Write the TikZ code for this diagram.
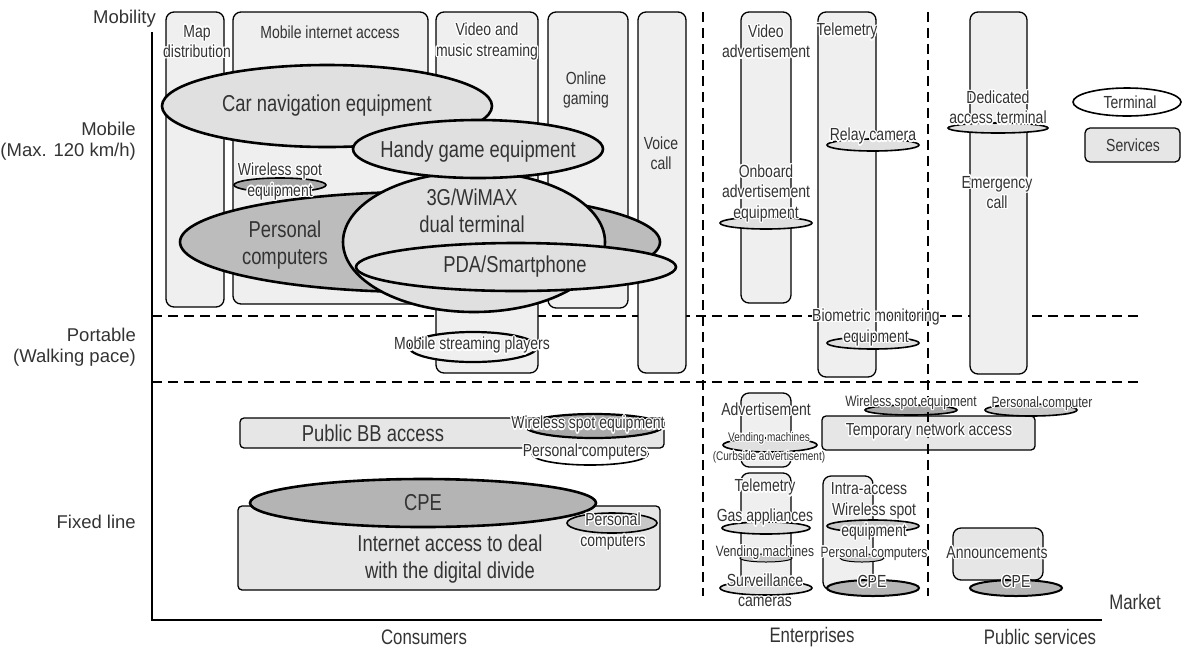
\documentclass[tikz,border=0pt]{standalone}
\usepackage{fontspec}
\setmainfont{Liberation Sans}
\newfontfamily\condfont{Liberation Sans}[FakeStretch=0.8]
\usepackage[copies]{contour}
\contourlength{1.2pt}
\contournumber{16}
\newcommand{\halo}[1]{\contour{white}{#1}}
\definecolor{ink}{HTML}{333333}
\definecolor{boxlight}{HTML}{EFEFEF}
\definecolor{boxfix}{HTML}{E6E6E6}
\definecolor{termlight}{HTML}{E0E0E0}
\definecolor{termdark}{HTML}{BCBCBC}
\definecolor{cpedark}{HTML}{B4B4B4}
\definecolor{spotdark}{HTML}{A9A9A9}
\definecolor{pcgray}{HTML}{C8C8C8}

\begin{document}
\begin{tikzpicture}[x=1pt, y=-1pt,
    every node/.style={inner sep=0pt, align=center, text=ink},
    axislbl/.style={font=\fontsize{18.5}{21}\selectfont},
    marketlbl/.style={font=\condfont\fontsize{21}{24}\selectfont},
    biglbl/.style={font=\condfont\fontsize{23}{27}\selectfont},
    midlbl/.style={font=\condfont\fontsize{17.5}{20.5}\selectfont},
    smllbl/.style={font=\condfont\fontsize{15}{17}\selectfont},
    tinylbl/.style={font=\condfont\fontsize{12.5}{19}\selectfont},
    svcbox/.style={draw, line width=1.3pt, rounded corners=8pt, fill=boxlight},
    fixbox/.style={draw, line width=1.3pt, rounded corners=4pt, fill=boxfix},
    termbig/.style={draw, line width=2.6pt, fill=termlight},
    termsml/.style={draw, line width=1.6pt, fill=termlight},
    zone/.style={line width=1.4pt, dash pattern=on 10pt off 6pt}]

\useasboundingbox (0,0) rectangle (1182,649);

\coordinate (top) at (152,32);
\coordinate (origin) at (152,620);
\coordinate (right) at (1102,620);

\draw[zone] (152,316) -- (1142,316);
\draw[zone] (152,382) -- (1142,382);

% mobile services
\draw[svcbox] (166,12) rectangle (224,307);
\draw[svcbox] (233,12) rectangle (428,304);
\draw[svcbox] (436,12) rectangle (538,373);
\draw[svcbox] (548,12) rectangle (628,308);
\draw[svcbox] (638,12) rectangle (686,373);
\draw[svcbox] (741,12) rectangle (791,303);
\draw[svcbox] (818,12) rectangle (876,377);
\draw[svcbox] (970,12) rectangle (1027,374);

% mobile terminals
\draw[termbig] (327,106) ellipse [x radius=165, y radius=41];
\draw[termbig, fill=termdark] (420,242) ellipse [x radius=240, y radius=50];
\draw[termbig] (474,242) ellipse [x radius=131, y radius=70];
\draw[termbig] (478,149) ellipse [x radius=125, y radius=29];
\draw[termbig] (516,267) ellipse [x radius=160, y radius=24];
\draw[termsml, fill=spotdark] (280,185) ellipse [x radius=46, y radius=7];
\draw[termbig, line width=2.2pt, fill=boxlight] (473,347) ellipse [x radius=64, y radius=15];
\draw[termsml] (766,223) ellipse [x radius=46, y radius=6];
\draw[termsml] (873,145) ellipse [x radius=46, y radius=6];
\draw[termsml] (873,343) ellipse [x radius=46, y radius=6];
\draw[termsml] (998,128) ellipse [x radius=50, y radius=5];

% fixed line
\draw[termsml, fill=white] (590,454) ellipse [x radius=58, y radius=11];
\draw[fixbox] (240,418) rectangle (664,448);
\draw[termbig, line width=2.2pt, fill=spotdark] (594,426) ellipse [x radius=69, y radius=12];
\draw[fixbox] (238,506) rectangle (660,590);
\draw[termbig, fill=cpedark] (423,503) ellipse [x radius=173, y radius=24];
\draw[termsml, fill=pcgray] (612,523) ellipse [x radius=45, y radius=10];

\draw[svcbox] (741,393) rectangle (791,467);
\draw[termsml] (770,445) ellipse [x radius=47, y radius=7];
\draw[svcbox] (741,473) rectangle (791,592);
\draw[termsml] (766,528) ellipse [x radius=44, y radius=6];
\draw[termsml, line width=1pt, fill=pcgray] (766,558) ellipse [x radius=26, y radius=4];
\draw[termsml] (766,588) ellipse [x radius=46, y radius=7];
\draw[svcbox] (823,476) rectangle (873,590);
\draw[termsml, fill=pcgray] (873,526) ellipse [x radius=46, y radius=6];
\draw[termsml, line width=1pt, fill=pcgray] (862,558) ellipse [x radius=22, y radius=4];
\draw[termsml, line width=2pt, fill=cpedark] (873,588) ellipse [x radius=46, y radius=8];
\draw[fixbox] (822,416) rectangle (1035,450);
\draw[termsml, fill=spotdark] (911,410) ellipse [x radius=46, y radius=5];
\draw[termsml, fill=pcgray] (1031,410) ellipse [x radius=46, y radius=6];

\draw[fixbox, rounded corners=8pt] (953,528) rectangle (1043,580);
\draw[termsml, line width=2pt, fill=cpedark] (1016,588) ellipse [x radius=46, y radius=8];

% legend
\draw[termsml, fill=white] (1127,102) ellipse [x radius=54, y radius=14];
\draw[fixbox, rounded corners=5pt] (1085,128) rectangle (1180,162);

\draw[zone] (703,12) -- (703,596);
\draw[zone] (928,12) -- (928,596);
\draw[line width=2pt] (top) -- (origin) -- (right);

% axis labels
\node[axislbl, anchor=east] (mobility) at (156,19) {Mobility};
\node[axislbl, anchor=east, align=right] (mobile) at (136,141) {Mobile\\(Max. 120 km/h)};
\node[axislbl, anchor=east, align=right] (portable) at (136,347) {Portable\\(Walking pace)};
\node[axislbl, anchor=east] (fixed) at (136,522) {Fixed line};
\node[marketlbl] (consumers) at (424,637) {Consumers};
\node[marketlbl] (enterprises) at (812,637) {Enterprises};
\node[marketlbl] (public) at (1040,637) {Public services};
\node[marketlbl] (market) at (1135,602) {Market};

% mobile labels
\node[midlbl] (mapd) at (197,42) {\halo{Map}\\\halo{distribution}};
\node[midlbl] (mia) at (330,32) {Mobile internet access};
\node[midlbl] (vms) at (487,42) {\halo{Video and}\\\halo{music streaming}};
\node[midlbl] (og) at (586,90) {Online\\gaming};
\node[midlbl] (vc) at (661,153) {Voice\\call};
\node[biglbl] (carnav) at (327,106) {Car navigation equipment};
\node[biglbl] (handy) at (478,152) {Handy game equipment};
\node[midlbl] (wspot) at (280,182) {\halo{Wireless spot}\\\halo{equipment}};
\node[biglbl] (pcs) at (285,245) {Personal\\computers};
\node[biglbl] (dual) at (472,211) {3G/WiMAX\\dual terminal};
\node[biglbl] (pda) at (515,267) {PDA/Smartphone};
\node[midlbl] (msp) at (472,346) {\halo{Mobile streaming players}};
\node[midlbl] (vad) at (766,42) {\halo{Video}\\\halo{advertisement}};
\node[midlbl] (tel) at (847,32) {\halo{Telemetry}};
\node[midlbl] (relay) at (873,137) {\halo{Relay camera}};
\node[midlbl] (onb) at (766,194) {\halo{Onboard}\\\halo{advertisement}\\\halo{equipment}};
\node[midlbl] (bio) at (876,328) {\halo{Biometric monitoring}\\\halo{equipment}};
\node[midlbl] (ded) at (998,108) {\halo{Dedicated}\\\halo{access terminal}};
\node[midlbl] (emc) at (997,193) {\halo{Emergency}\\\halo{call}};
\node[midlbl] (lterm) at (1130,102) {Terminal};
\node[midlbl] (lsvc) at (1133,145) {Services};

% fixed labels
\node[biglbl] (pbb) at (373,433) {Public BB access};
\node[midlbl] (pbbspot) at (588,425) {\halo{Wireless spot equipment}};
\node[midlbl] (pbbpc) at (585,453) {\halo{Personal computers}};
\node[biglbl] (cpe) at (423,503) {CPE};
\node[biglbl] (iad) at (450,559) {Internet access to deal\\with the digital divide};
\node[midlbl] (iadpc) at (613,532) {\halo{Personal}\\\halo{computers}};
\node[midlbl] (adv) at (766,410) {\halo{Advertisement}};
\node[tinylbl] (vend) at (769,448) {\halo{Vending machines}\\\halo{(Curbside advertisement)}};
\node[midlbl] (tel2) at (765,488) {\halo{Telemetry}};
\node[midlbl] (gas) at (765,518) {\halo{Gas appliances}};
\node[smllbl] (vend2) at (765,553) {\halo{Vending machines}};
\node[midlbl] (surv) at (765,591) {\halo{Surveillance}\\\halo{cameras}};
\node[midlbl] (intra) at (869,489) {\halo{Intra-access}};
\node[midlbl] (intspot) at (874,522) {\halo{Wireless spot}\\\halo{equipment}};
\node[smllbl] (intpc) at (874,554) {\halo{Personal computers}};
\node[midlbl] (intcpe) at (872,582) {\halo{CPE}};
\node[midlbl] (tna) at (929,432) {\halo{Temporary network access}};
\node[smllbl] (tnaspot) at (911,403) {\halo{Wireless spot equipment}};
\node[smllbl] (tnapc) at (1042,404) {\halo{Personal computer}};
\node[midlbl] (ann) at (997,553) {\halo{Announcements}};
\node[midlbl] (pubcpe) at (1016,582) {\halo{CPE}};
\end{tikzpicture}
\end{document}
